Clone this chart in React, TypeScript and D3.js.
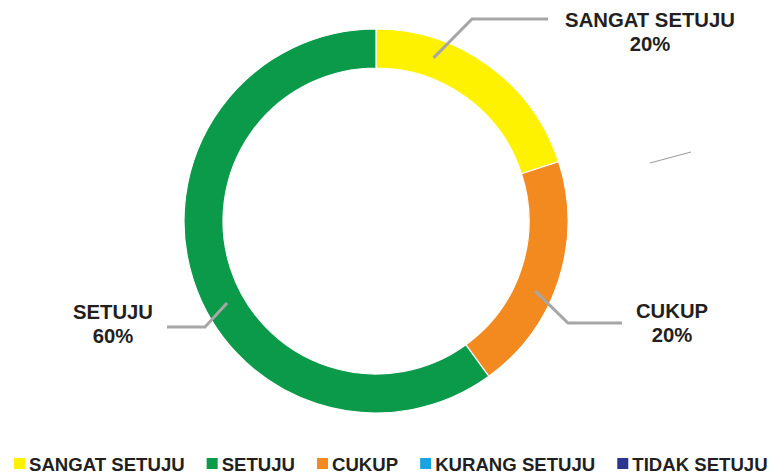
import React, { useEffect, useRef } from "react";
import * as d3 from "d3";

const categories = ["SANGAT SETUJU", "SETUJU", "CUKUP", "KURANG SETUJU", "TIDAK SETUJU"];
const values = [20, 60, 20, 0, 0];
const colors = ["#FFF200", "#0A9A4A", "#F28A1F", "#1AA3DE", "#2B3590"];
// clockwise drawing order around the ring, starting at 12 o'clock
const drawOrder = [0, 3, 4, 2, 1];

const W = 775;
const H = 475;
const FONT = "'Liberation Sans', Arial, sans-serif";

export default function App() {
  const ref = useRef<SVGSVGElement>(null);

  useEffect(() => {
    const svg = d3.select(ref.current);
    svg.selectAll("*").remove();

    const cx = 376, cy = 221, R = 192, r0 = 153;
    const data = drawOrder.map((i) => ({ name: categories[i], value: values[i], color: colors[i], idx: i }));
    const pie = d3.pie<any>().sort(null).value((d) => d.value).startAngle(0).endAngle(2 * Math.PI);
    const arcs = pie(data);
    const arc = d3.arc<any>().innerRadius(r0).outerRadius(R);

    const g = svg.append("g").attr("transform", `translate(${cx},${cy})`);
    g.selectAll("path")
      .data(arcs.filter((a) => a.value > 0))
      .join("path")
      .attr("d", arc)
      .attr("fill", (d) => d.data.color)
      .attr("stroke", "#fff")
      .attr("stroke-width", 1.2);

    const polar = (angle: number, rad: number) => [Math.sin(angle) * rad, -Math.cos(angle) * rad];

    // labels: leader start as fraction along slice, bend, end, label anchor
    const labelCfg: Record<string, any> = {
      "SANGAT SETUJU": { frac: 0.27, rad: 173, bend: [472, 19], end: [548, 19], text: [650, 27] },
      "CUKUP": { frac: 0.58, rad: 174, bend: [568, 323], end: [622, 323], text: [672, 318] },
      "SETUJU": { frac: 0.45, rad: 170, bend: [205, 327], end: [167, 327], text: [113, 319] },
    };

    const fmt = (v: number) => `${Math.round(v)}%`;
    const total = d3.sum(values);

    arcs.forEach((a) => {
      const cfg = labelCfg[a.data.name];
      if (!cfg || a.value <= 0) return;
      const ang = a.startAngle + (a.endAngle - a.startAngle) * cfg.frac;
      const [sx, sy] = polar(ang, cfg.rad);
      svg.append("polyline")
        .attr("points", `${cx + sx},${cy + sy} ${cfg.bend[0]},${cfg.bend[1]} ${cfg.end[0]},${cfg.end[1]}`)
        .attr("fill", "none")
        .attr("stroke", "#A6A6A6")
        .attr("stroke-width", 3);
      const t = svg.append("text")
        .attr("x", cfg.text[0])
        .attr("y", cfg.text[1])
        .attr("text-anchor", "middle")
        .attr("font-family", FONT)
        .attr("font-weight", "bold")
        .attr("font-size", 20.3)
        .attr("fill", "#231F20");
      t.append("tspan").attr("x", cfg.text[0]).text(a.data.name);
      t.append("tspan").attr("x", cfg.text[0]).attr("dy", 24).text(fmt((a.value / total) * 100));
    });

    // faint leader of the zero-value slices
    svg.append("line")
      .attr("x1", 650).attr("y1", 163).attr("x2", 691).attr("y2", 152)
      .attr("stroke", "#9A9A9A").attr("stroke-width", 1);

    // legend
    const leg = svg.append("g");
    let x = 14;
    const ly = 464;
    categories.forEach((c, i) => {
      leg.append("rect")
        .attr("x", x).attr("y", ly - 6).attr("width", 11).attr("height", 11)
        .attr("fill", colors[i]);
      const t = leg.append("text")
        .attr("x", x + 15).attr("y", ly + 6.5)
        .attr("font-family", FONT)
        .attr("font-weight", "bold")
        .attr("font-size", 18.6)
        .attr("fill", "#231F20")
        .text(c);
      const w = (t.node() as SVGTextElement).getComputedTextLength();
      x = x + 15 + w + 22;
    });
  }, []);

  return (
    <svg
      ref={ref}
      width={W}
      height={H}
      style={{ position: "absolute", left: 0, top: 0, background: "#fff" }}
    />
  );
}
